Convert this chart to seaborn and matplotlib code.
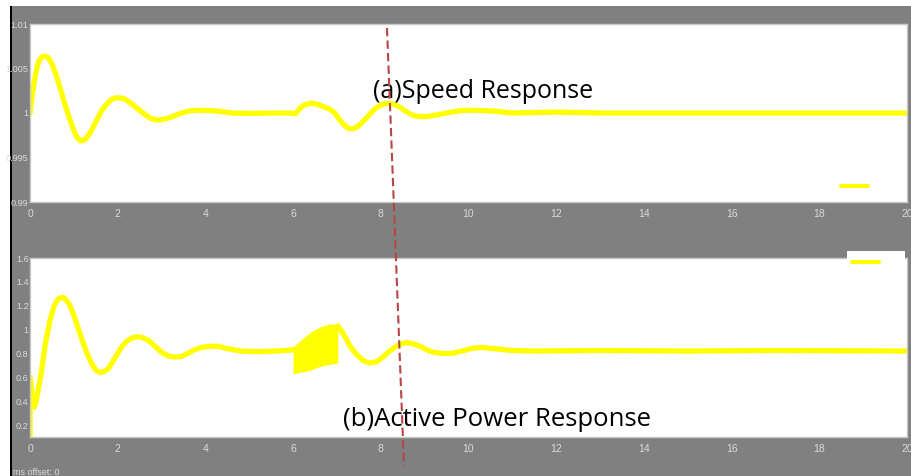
import matplotlib
matplotlib.use("Agg")
import matplotlib.pyplot as plt
from matplotlib.patches import Rectangle
from matplotlib.lines import Line2D
import seaborn as sns

sns.set_style("white")

# ---- data ----
speed_t = [0.0, 0.05, 0.1, 0.15, 0.2, 0.27, 0.34, 0.42, 0.5, 0.6, 0.7, 0.8, 0.9, 1.0, 1.08,
           1.16, 1.25, 1.35, 1.45, 1.55, 1.65, 1.75, 1.85, 1.95, 2.05, 2.15, 2.3, 2.45, 2.6,
           2.75, 2.9, 3.05, 3.2, 3.4, 3.6, 3.8, 4.0, 4.3, 4.6, 5.0, 5.5, 5.95, 6.05, 6.15,
           6.25, 6.4, 6.55, 6.7, 6.85, 6.95, 7.05, 7.15, 7.25, 7.35, 7.45, 7.55, 7.7, 7.85,
           8.0, 8.15, 8.3, 8.45, 8.6, 8.75, 8.9, 9.05, 9.3, 9.6, 9.9, 10.2, 10.6, 11.0, 12.0,
           13.0, 14.0, 15.0, 16.0, 17.0, 18.0, 19.0, 20.0]
speed_v = [1.0000, 1.0020, 1.0036, 1.0049, 1.0058, 1.0063, 1.0064, 1.0062, 1.0055, 1.0042,
           1.0026, 1.0009, 0.9994, 0.9980, 0.9972, 0.99685, 0.9970, 0.9976, 0.9985, 0.9995,
           1.0004, 1.0010, 1.0015, 1.0017, 1.0017, 1.0016, 1.0011, 1.0005, 0.9999, 0.9994,
           0.9992, 0.9993, 0.9995, 0.9999, 1.0002, 1.0003, 1.0003, 1.0002, 1.0000, 0.99995,
           1.0000, 1.0000, 0.9999, 1.0005, 1.0009, 1.0011, 1.0010, 1.0007, 1.0004, 1.0000,
           0.9993, 0.9987, 0.9983, 0.9982, 0.9984, 0.9988, 0.9996, 1.0004, 1.0009, 1.0011,
           1.0010, 1.0006, 1.0001, 0.9997, 0.9996, 0.9996, 0.9998, 1.0001, 1.0003, 1.0003,
           1.0002, 1.0000, 1.0001, 1.0000, 1.0000, 1.0000, 1.0000, 1.0000, 1.0000, 1.0000,
           1.0000]

power_t = [0.0, 0.005, 0.05, 0.1, 0.15, 0.25, 0.35, 0.45, 0.55, 0.65, 0.73, 0.8, 0.9, 1.0,
           1.1, 1.2, 1.3, 1.4, 1.5, 1.6, 1.7, 1.8, 1.9, 2.0, 2.1, 2.2, 2.32, 2.44, 2.55, 2.7,
           2.85, 3.0, 3.15, 3.3, 3.45, 3.6, 3.75, 3.9, 4.1, 4.3, 4.5, 4.8, 5.2, 5.6, 6.0,
           7.02, 7.1, 7.2, 7.3, 7.45, 7.6, 7.75, 7.9, 8.05, 8.2, 8.35, 8.5, 8.6, 8.75, 8.9,
           9.05, 9.2, 9.4, 9.6, 9.85, 10.1, 10.3, 10.6, 11.0, 11.5, 13.0, 15.0, 17.0, 20.0]
power_v = [0.10, 0.60, 0.45, 0.35, 0.42, 0.62, 0.88, 1.07, 1.20, 1.26, 1.27, 1.26, 1.21,
           1.12, 1.01, 0.90, 0.80, 0.72, 0.66, 0.64, 0.65, 0.68, 0.74, 0.80, 0.86, 0.90,
           0.93, 0.94, 0.935, 0.91, 0.86, 0.81, 0.78, 0.77, 0.775, 0.80, 0.83, 0.85, 0.86,
           0.86, 0.84, 0.82, 0.815, 0.82, 0.83, 1.03, 0.99, 0.93, 0.86, 0.79, 0.74, 0.72,
           0.73, 0.77, 0.82, 0.86, 0.885, 0.89, 0.88, 0.86, 0.83, 0.81, 0.80, 0.80, 0.82,
           0.845, 0.85, 0.84, 0.825, 0.82, 0.825, 0.82, 0.825, 0.82]

band_t = [6.0, 6.2, 6.4, 6.6, 6.85, 7.02]
band_upper = [0.85, 0.92, 0.98, 1.02, 1.05, 1.04]
band_lower = [0.63, 0.645, 0.66, 0.69, 0.71, 0.72]

x_ticks = [0, 2, 4, 6, 8, 10, 12, 14, 16, 18, 20]
speed_ticks = [0.99, 0.995, 1.0, 1.005, 1.01]
speed_labels = ["0.99", "0.995", "1", "1.005", "1.01"]
power_ticks = [0.2, 0.4, 0.6, 0.8, 1.0, 1.2, 1.4, 1.6]
power_labels = ["0.2", "0.4", "0.6", "0.8", "1", "1.2", "1.4", "1.6"]

W, H = 911, 476
fig = plt.figure(figsize=(W / 100, H / 100), dpi=100)
fig.patch.set_facecolor("white")

def fx(px):
    return px / W

def fy(py):
    return 1 - py / H

GRAY = "#808080"
fig.add_artist(Rectangle((fx(12), 0), fx(911) - fx(12), fy(6), transform=fig.transFigure,
                         facecolor=GRAY, edgecolor="none", zorder=-10))
fig.add_artist(Rectangle((fx(10), 0), fx(2), fy(6), transform=fig.transFigure,
                         facecolor="black", edgecolor="none", zorder=-9))

ax1 = fig.add_axes([fx(30), fy(202), fx(907) - fx(30), (202 - 24) / H])
ax2 = fig.add_axes([fx(30), fy(437), fx(907) - fx(30), (437 - 258) / H])

tick_font = ["Liberation Sans", "DejaVu Sans"]
TICKC = "#DADADA"
YEL = "#FFFF00"

sns.lineplot(x=speed_t, y=speed_v, ax=ax1, color=YEL, linewidth=3.8)
sns.lineplot(x=power_t, y=power_v, ax=ax2, color=YEL, linewidth=3.8)
ax2.fill_between(band_t, band_lower, band_upper, color=YEL, linewidth=0)

ax1.set_ylim(0.99, 1.01)
ax1.set_yticks(speed_ticks)
ax1.set_yticklabels(speed_labels)
ax2.set_ylim(0.1, 1.6)
ax2.set_yticks(power_ticks)
ax2.set_yticklabels(power_labels)

for ax in (ax1, ax2):
    ax.set_facecolor("white")
    ax.set_xlim(0, 20)
    ax.set_xticks(x_ticks)
    ax.set_xticklabels([str(v) for v in x_ticks])
    ax.tick_params(length=0, colors=TICKC)
    ax.tick_params(axis="x", pad=5, labelsize=7.5)
    ax.tick_params(axis="y", pad=1, labelsize=6.6)
    for lab in ax.get_xticklabels() + ax.get_yticklabels():
        lab.set_family(tick_font)
    for s in ax.spines.values():
        s.set_color("#C8C8C8")
        s.set_linewidth(1.0)
    ax.set_xlabel("")
    ax.set_ylabel("")

# legend-like marks
fig.add_artist(Line2D([fx(841), fx(868)], [fy(186), fy(186)], transform=fig.transFigure,
                      color=YEL, linewidth=3, zorder=5))
fig.add_artist(Rectangle((fx(847), fy(272)), fx(905) - fx(847), (272 - 251) / H,
                         transform=fig.transFigure, facecolor="white", edgecolor="none",
                         zorder=5))
fig.add_artist(Line2D([fx(852), fx(879)], [fy(262), fy(262)], transform=fig.transFigure,
                      color=YEL, linewidth=3, zorder=6))

# annotations
fig.text(fx(483), fy(92), "(a)Speed Response", ha="center", va="center", fontsize=18,
         family=["Open Sans", "DejaVu Sans"], color="black", zorder=7)
fig.text(fx(497), fy(419), "(b)Active Power Response", ha="center", va="center",
         fontsize=18.5, family=["Open Sans", "DejaVu Sans"], color="black", zorder=7)
fig.text(fx(13), fy(468), "ms offset: 0", ha="left", va="top", fontsize=6.5,
         family=tick_font, color=TICKC, zorder=7)

fig.add_artist(Line2D([fx(387), fx(404)], [fy(28), fy(466)], transform=fig.transFigure,
                      color="#B94444", linewidth=1.5, linestyle=(0, (4, 2)), zorder=8))

fig.savefig("out.png", dpi=100, facecolor=fig.get_facecolor())
